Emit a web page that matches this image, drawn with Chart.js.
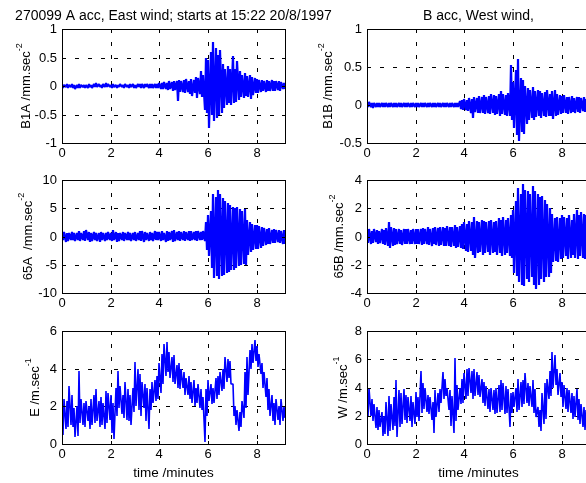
<!DOCTYPE html>
<html>
<head>
<meta charset="utf-8">
<script src="https://cdn.jsdelivr.net/npm/chart.js@4.4.1/dist/chart.umd.min.js"></script>
<style>
  html, body { margin: 0; padding: 0; background: #fff; overflow: hidden; width: 586px; height: 483px; }
  canvas { position: absolute; }
</style>
</head>
<body>
<script>
// Records are stored as per-bin maxima / minima, one bin every 0.1 minute.
const timeStep = 0.1;
const xMax = 9.15;
const xTicks = [0, 2, 4, 6, 8];

// B1A acceleration, mm/s^2
const b1aHi = [0.03,0.025,0.03,0.02,0.03,0.025,0.02,0.03,0.02,0.025,
  0.02,0.03,0.02,0.03,0.045,0.035,0.02,0.03,0.045,0.04,
  0.02,0.03,0.025,0.02,0.03,0.025,0.03,0.02,0.03,0.03,
  0.025,0.03,0.03,0.035,0.03,0.03,0.035,0.03,0.04,0.03,
  0.06,0.05,0.07,0.06,0.08,0.07,0.09,0.08,0.1,0.08,
  0.1,0.12,0.09,0.13,0.11,0.16,0.14,0.26,0.2,0.5,
  0.45,0.6,0.77,0.67,0.55,0.64,0.38,0.3,0.35,0.3,
  0.52,0.3,0.43,0.26,0.2,0.22,0.18,0.2,0.15,0.14,
  0.12,0.1,0.11,0.09,0.1,0.08,0.1,0.09,0.08,0.09,
  0.07,0.06];
const b1aLo = [-0.03,-0.02,-0.03,-0.025,-0.04,-0.05,-0.03,-0.03,-0.025,-0.03,
  -0.03,-0.02,-0.03,-0.02,-0.01,-0.02,-0.03,-0.02,-0.01,-0.02,
  -0.03,-0.02,-0.03,-0.025,-0.02,-0.03,-0.02,-0.03,-0.025,-0.03,
  -0.03,-0.025,-0.03,-0.03,-0.025,-0.03,-0.03,-0.035,-0.03,-0.03,
  -0.05,-0.06,-0.05,-0.07,-0.06,-0.08,-0.07,-0.26,-0.1,-0.1,
  -0.12,-0.1,-0.14,-0.18,-0.12,-0.21,-0.14,-0.2,-0.42,-0.48,
  -0.73,-0.5,-0.62,-0.56,-0.5,-0.48,-0.39,-0.33,-0.3,-0.33,
  -0.3,-0.28,-0.25,-0.2,-0.21,-0.18,-0.2,-0.22,-0.15,-0.13,
  -0.12,-0.1,-0.09,-0.1,-0.08,-0.09,-0.08,-0.09,-0.07,-0.08,
  -0.06,-0.05];

// B1B acceleration, mm/s^2
const b1bHi = [0.03,0.035,0.03,0.025,0.03,0.03,0.025,0.03,0.03,0.025,
  0.03,0.025,0.03,0.03,0.025,0.03,0.03,0.025,0.03,0.03,
  0.03,0.025,0.03,0.03,0.025,0.03,0.03,0.025,0.03,0.025,
  0.03,0.025,0.03,0.03,0.025,0.03,0.03,0.025,0.05,0.07,
  0.08,0.07,0.09,0.08,0.1,0.09,0.12,0.1,0.13,0.11,
  0.12,0.14,0.13,0.12,0.15,0.18,0.14,0.13,0.16,0.53,
  0.3,0.46,0.6,0.35,0.33,0.25,0.22,0.2,0.24,0.18,
  0.2,0.18,0.16,0.17,0.2,0.15,0.18,0.2,0.14,0.13,
  0.12,0.13,0.11,0.1,0.12,0.09,0.1,0.11,0.09,0.1,
  0.08,0.08];
const b1bLo = [-0.03,-0.03,-0.035,-0.03,-0.03,-0.025,-0.03,-0.03,-0.03,-0.03,
  -0.03,-0.03,-0.025,-0.03,-0.03,-0.03,-0.025,-0.03,-0.03,-0.03,
  -0.03,-0.03,-0.025,-0.03,-0.03,-0.03,-0.03,-0.025,-0.03,-0.03,
  -0.03,-0.03,-0.03,-0.025,-0.03,-0.03,-0.03,-0.03,-0.05,-0.06,
  -0.07,-0.08,-0.1,-0.17,-0.09,-0.1,-0.11,-0.1,-0.12,-0.11,
  -0.12,-0.1,-0.13,-0.12,-0.14,-0.12,-0.13,-0.15,-0.14,-0.2,
  -0.3,-0.4,-0.48,-0.35,-0.38,-0.25,-0.2,-0.17,-0.2,-0.16,
  -0.15,-0.17,-0.14,-0.16,-0.15,-0.14,-0.18,-0.15,-0.13,-0.12,
  -0.11,-0.1,-0.12,-0.1,-0.09,-0.1,-0.09,-0.1,-0.08,-0.09,
  -0.08,-0.07];

// 65A acceleration, mm/s^2
const a65Hi = [0.7,0.8,0.6,0.7,0.8,0.6,0.7,0.9,0.7,1.0,
  1.1,0.8,0.7,0.8,0.6,0.7,0.8,0.7,0.6,0.8,
  0.7,1.1,0.8,0.7,0.6,0.8,0.7,0.8,0.6,0.7,
  0.8,0.7,0.9,1.0,0.8,0.7,0.8,0.7,0.9,0.8,
  0.8,0.9,0.7,1.0,0.8,0.9,1.1,0.8,0.9,0.8,
  0.9,0.8,1.0,0.9,0.8,1.0,0.9,0.8,1.0,2.6,
  3.8,4.5,7.6,7.0,8.2,7.5,6.8,6.2,5.9,5.5,
  5.3,5.0,5.2,4.8,4.6,4.9,3.0,2.6,2.3,2.0,
  2.0,1.8,1.6,1.5,1.4,1.5,1.2,1.3,1.1,1.2,
  1.0,1.1];
const a65Lo = [-0.7,-0.9,-0.8,-0.7,-0.6,-0.8,-0.7,-0.8,-0.6,-0.8,
  -0.7,-0.9,-0.8,-0.7,-0.8,-0.9,-0.7,-0.8,-0.7,-0.6,
  -0.8,-0.7,-0.9,-0.8,-0.7,-0.8,-0.7,-0.6,-0.8,-0.7,
  -0.8,-0.7,-0.8,-0.9,-0.7,-0.8,-0.7,-0.8,-0.6,-0.7,
  -0.8,-0.7,-0.9,-0.8,-0.7,-0.9,-0.8,-0.7,-0.8,-0.6,
  -0.8,-0.7,-0.8,-0.6,-0.7,-0.8,-0.7,-0.6,-0.8,-2.4,
  -3.5,-5.6,-7.4,-7.0,-7.6,-7.0,-6.8,-6.4,-6.2,-6.0,
  -5.9,-5.5,-5.3,-5.0,-4.8,-5.0,-3.2,-2.8,-2.4,-2.2,
  -2.3,-2.0,-1.7,-1.5,-1.4,-1.3,-1.2,-1.1,-1.0,-1.2,
  -1.4,-1.3];

// 65B acceleration, mm/s^2
const b65Hi = [0.45,0.5,0.4,0.5,0.45,0.4,0.5,0.45,0.6,1.0,
  0.7,0.6,0.55,0.5,0.45,0.5,0.55,0.5,0.45,0.5,
  0.5,0.55,0.5,0.6,0.5,0.65,0.55,0.6,0.7,0.6,
  0.65,0.7,0.6,0.75,0.65,0.7,0.8,0.7,0.75,0.9,
  1.0,0.9,1.1,1.0,1.4,1.1,1.0,1.2,1.1,1.0,
  1.1,1.2,1.0,1.1,1.3,1.2,1.4,1.2,1.3,1.5,
  1.9,2.5,3.4,3.0,3.7,3.3,3.2,3.0,3.6,3.2,
  3.0,2.8,2.9,2.6,2.3,2.0,1.6,1.3,1.4,1.3,
  1.5,1.4,1.3,1.5,1.2,1.6,1.9,1.5,1.7,1.6,
  1.5,1.4];
const b65Lo = [-0.45,-0.5,-0.45,-0.4,-0.5,-0.45,-0.55,-0.6,-0.7,-0.8,
  -0.7,-0.6,-0.55,-0.5,-0.6,-0.5,-0.55,-0.5,-0.5,-0.55,
  -0.5,-0.55,-0.6,-0.5,-0.55,-0.6,-0.65,-0.55,-0.6,-0.65,
  -0.6,-0.7,-0.65,-0.7,-0.75,-0.7,-0.8,-0.75,-0.8,-0.9,
  -1.0,-1.1,-1.0,-1.3,-1.5,-1.2,-1.1,-1.3,-1.2,-1.1,
  -1.3,-1.2,-1.1,-1.3,-1.2,-1.4,-1.3,-1.2,-1.4,-1.5,
  -2.6,-2.8,-3.2,-3.4,-3.5,-3.0,-3.2,-2.9,-3.4,-3.75,
  -3.4,-3.0,-3.2,-2.9,-2.9,-2.6,-1.8,-1.7,-1.8,-1.6,
  -1.5,-1.4,-1.6,-1.5,-1.3,-1.5,-1.6,-1.4,-1.5,-1.6,
  -1.5,-1.4];

// East wind speed, m/s
const eHi = [2.5,2.4,2.3,3.1,2.6,1.9,2.0,3.86,2.4,2.2,
  2.3,2.0,2.4,2.6,2.9,2.3,2.5,2.2,2.8,2.7,
  2.6,2.2,3.0,3.86,3.1,2.6,3.3,2.9,2.6,3.0,
  4.33,4.0,3.7,3.3,3.2,3.0,2.9,3.3,3.4,3.6,
  4.3,4.8,5.3,5.4,4.9,4.6,4.7,4.2,4.3,4.0,
  3.8,3.5,3.6,3.3,3.4,3.0,3.2,2.9,2.5,2.9,
  3.4,3.2,3.0,3.5,3.6,3.8,4.0,4.6,4.5,4.4,
  3.2,2.0,1.8,1.7,2.3,3.8,4.6,5.0,5.3,5.5,
  5.2,4.8,4.3,3.8,3.5,2.9,2.6,2.2,2.4,2.0,
  2.4,2.0];
const eLo = [0.5,0.8,0.9,1.0,0.9,0.35,0.4,1.1,1.0,0.9,
  1.2,0.8,1.0,1.1,1.2,0.9,1.0,0.8,1.1,1.3,
  0.6,0.25,1.5,1.9,1.6,1.4,1.3,1.2,1.0,1.7,
  2.0,1.8,1.5,1.9,1.2,0.8,1.8,2.2,2.3,2.4,
  2.7,3.2,3.6,3.8,3.5,3.3,3.2,3.0,2.9,3.0,
  2.6,2.6,2.4,2.2,2.0,2.2,1.9,1.8,0.1,1.5,
  2.3,2.1,2.2,2.4,2.6,2.8,2.9,3.3,3.5,3.2,
  1.5,1.0,0.7,0.9,1.4,1.9,2.6,4.0,4.3,4.4,
  4.1,3.7,3.0,2.5,1.8,1.5,1.2,1.0,1.3,1.0,
  1.2,1.4];

// West wind speed, m/s
const wHi = [2.8,4.0,3.2,2.8,2.6,2.4,2.3,2.0,3.0,3.4,
  2.8,3.3,4.5,3.8,3.6,3.9,3.5,3.3,3.4,3.0,
  3.7,3.3,5.2,4.3,4.0,3.5,3.3,3.0,3.8,3.6,
  3.9,5.1,4.6,4.0,3.8,3.4,6.1,4.2,4.0,4.6,
  5.0,5.3,5.4,5.2,5.3,5.1,4.9,4.6,4.4,4.1,
  3.9,4.0,3.8,4.0,4.2,4.5,4.3,4.1,3.9,3.6,
  3.7,4.0,4.6,4.4,4.5,5.0,4.3,4.1,4.5,3.9,
  2.6,2.4,3.6,4.3,4.6,5.2,6.5,6.3,5.3,5.0,
  4.4,4.2,4.0,3.8,3.6,3.4,3.9,3.2,2.8,2.6,
  2.4,2.2];
const wLo = [1.9,2.0,1.6,1.1,1.0,1.2,0.6,0.7,0.6,0.9,
  1.0,1.3,0.5,1.2,1.4,1.7,1.5,1.6,1.2,1.4,
  1.9,1.6,2.2,2.5,2.3,2.1,1.7,0.8,1.9,2.3,
  2.9,3.2,3.4,2.4,1.3,0.8,1.6,2.4,2.8,2.9,
  3.2,3.4,3.6,3.2,3.4,3.5,3.3,2.9,2.7,2.5,
  2.3,2.4,2.1,2.2,2.3,2.4,2.1,2.2,1.2,2.2,
  2.6,2.3,2.4,2.6,2.8,2.9,2.7,2.6,2.2,1.9,
  1.2,0.9,1.4,1.8,3.2,3.4,4.0,4.2,3.5,3.3,
  2.6,2.5,2.3,2.2,1.8,1.9,1.7,1.4,1.2,1.0,
  1.3,1.2];

const ticksB1A = [-1, -0.5, 0, 0.5, 1];
const ticksB1B = [-0.5, 0, 0.5, 1];
const ticks65A = [-10, -5, 0, 5, 10];
const ticks65B = [-4, -2, 0, 2, 4];
const ticksE = [0, 2, 4, 6];
const ticksW = [0, 2, 4, 6, 8];

const FONT = "'Liberation Sans', Arial, Helvetica, sans-serif";
const INK = '#000000';
const TRACE = '#0000ff';

// Panel layout in page pixels: plot box [x, y, w, h], canvas [x, y, w, h], label baseline x
const panels = [
  { hi: b1aHi, lo: b1aLo, yTicks: ticksB1A, label: 'B1A /mm.sec', sup: '-2', lw: 2.2,
    box: [62, 29, 223, 114], cv: [0, 0, 345, 170], labelX: 30,
    title: '270099 A acc, East wind; starts at 15:22 20/8/1997' },
  { hi: b1bHi, lo: b1bLo, yTicks: ticksB1B, label: 'B1B /mm.sec', sup: '-2', lw: 2.2,
    box: [367, 29, 223, 114], cv: [305, 0, 295, 170], labelX: 331.5,
    title: 'B acc, West wind,' },
  { hi: a65Hi, lo: a65Lo, yTicks: ticks65A, label: '65A  /mm.sec', sup: '-2', lw: 2.2,
    box: [62, 180, 223, 113], cv: [0, 151, 345, 170], labelX: 31.5 },
  { hi: b65Hi, lo: b65Lo, yTicks: ticks65B, label: '65B /mm.sec', sup: '-2', lw: 2.2,
    box: [367, 180, 223, 113], cv: [305, 151, 295, 170], labelX: 343 },
  { hi: eHi, lo: eLo, yTicks: ticksE, label: 'E /m.sec', sup: '-1', lw: 1.6,
    box: [62, 331, 223, 113], cv: [0, 302, 345, 181], labelX: 39, xTitle: 'time /minutes' },
  { hi: wHi, lo: wLo, yTicks: ticksW, label: 'W /m.sec', sup: '-1', lw: 1.6,
    box: [367, 331, 223, 113], cv: [305, 302, 295, 181], labelX: 347, xTitle: 'time /minutes' }
];

// Alternate each bin's maximum and minimum so the trace sweeps the full band.
function bandPoints(hi, lo) {
  const pts = [];
  for (let i = 0; i < hi.length; i++) {
    const t = i * timeStep;
    pts.push({ x: t, y: hi[i] });
    pts.push({ x: t + timeStep / 2, y: lo[i] });
  }
  return pts;
}

// Box, inward tick marks and all annotation text
const decorations = {
  id: 'decorations',
  afterDatasetsDraw(chart, args, o) {
    const ctx = chart.ctx;
    const a = chart.chartArea;
    const p = o.panel;
    const ox = p.cv[0], oy = p.cv[1];
    ctx.save();
    ctx.strokeStyle = INK;
    ctx.lineWidth = 1;
    ctx.strokeRect(a.left + 0.5, a.top + 0.5, a.right - a.left, a.bottom - a.top);
    const tl = 3;
    ctx.beginPath();
    for (const v of xTicks) {
      const px = Math.round(chart.scales.x.getPixelForValue(v)) + 0.5;
      ctx.moveTo(px, a.bottom); ctx.lineTo(px, a.bottom - tl);
      ctx.moveTo(px, a.top); ctx.lineTo(px, a.top + tl);
    }
    for (const v of p.yTicks) {
      const py = Math.round(chart.scales.y.getPixelForValue(v)) + 0.5;
      ctx.moveTo(a.left, py); ctx.lineTo(a.left + tl, py);
      ctx.moveTo(a.right, py); ctx.lineTo(a.right - tl, py);
    }
    ctx.stroke();

    ctx.fillStyle = INK;
    ctx.textBaseline = 'alphabetic';
    const cx = (a.left + a.right) / 2;
    if (p.title) {
      ctx.font = '14px ' + FONT;
      ctx.textAlign = 'center';
      ctx.fillText(p.title, cx, 19.5 - oy);
    }
    if (p.xTitle) {
      ctx.font = '13.5px ' + FONT;
      ctx.textAlign = 'center';
      ctx.fillText(p.xTitle, cx, 477 - oy);
    }
    // rotated y label with superscript exponent
    ctx.textAlign = 'left';
    ctx.font = '13px ' + FONT;
    const mainW = ctx.measureText(p.label).width;
    ctx.font = '9px ' + FONT;
    const supW = ctx.measureText(p.sup).width;
    const total = mainW + supW;
    const cy = (a.top + a.bottom) / 2;
    ctx.translate(p.labelX - ox, cy);
    ctx.rotate(-Math.PI / 2);
    ctx.font = '13px ' + FONT;
    ctx.fillText(p.label, -total / 2, 0);
    ctx.font = '9px ' + FONT;
    ctx.fillText(p.sup, -total / 2 + mainW, -8);
    ctx.restore();
  }
};

panels.forEach((p) => {
  const canvas = document.createElement('canvas');
  canvas.width = p.cv[2];
  canvas.height = p.cv[3];
  canvas.style.left = p.cv[0] + 'px';
  canvas.style.top = p.cv[1] + 'px';
  document.body.appendChild(canvas);

  const yAxisW = p.box[0] - p.cv[0];
  const padTop = p.box[1] - p.cv[1];
  const padRight = p.cv[2] - yAxisW - p.box[2];
  const xAxisH = p.cv[3] - padTop - p.box[3];
  const yMin = p.yTicks[0], yMax = p.yTicks[p.yTicks.length - 1];

  new Chart(canvas, {
    type: 'line',
    data: {
      datasets: [{
        data: bandPoints(p.hi, p.lo),
        borderColor: TRACE,
        borderWidth: p.lw,
        borderJoinStyle: 'bevel',
        pointRadius: 0,
        tension: 0,
        fill: false
      }]
    },
    options: {
      responsive: false,
      animation: false,
      events: [],
      parsing: false,
      normalized: true,
      layout: { padding: { left: 0, top: padTop, right: padRight, bottom: 0 } },
      plugins: {
        legend: { display: false },
        tooltip: { enabled: false },
        decorations: { panel: p }
      },
      scales: {
        x: {
          type: 'linear',
          min: 0,
          max: xMax,
          alignToPixels: true,
          afterBuildTicks: (s) => { s.ticks = xTicks.map((v) => ({ value: v })); },
          afterFit: (s) => { s.height = xAxisH; },
          grid: { color: INK, lineWidth: 1, drawTicks: false },
          border: { display: false, dash: [4, 9] },
          ticks: {
            color: INK, padding: 3, maxRotation: 0, autoSkip: false,
            font: { family: FONT, size: 13 },
            callback: (v) => String(v)
          }
        },
        y: {
          type: 'linear',
          min: yMin,
          max: yMax,
          alignToPixels: true,
          afterBuildTicks: (s) => { s.ticks = p.yTicks.map((v) => ({ value: v })); },
          afterFit: (s) => { s.width = yAxisW; },
          grid: { color: INK, lineWidth: 1, drawTicks: false },
          border: { display: false, dash: [4, 9] },
          ticks: {
            color: INK, padding: 5, autoSkip: false,
            font: { family: FONT, size: 13 },
            callback: (v) => String(v)
          }
        }
      }
    },
    plugins: [decorations]
  });
});
</script>
</body>
</html>
